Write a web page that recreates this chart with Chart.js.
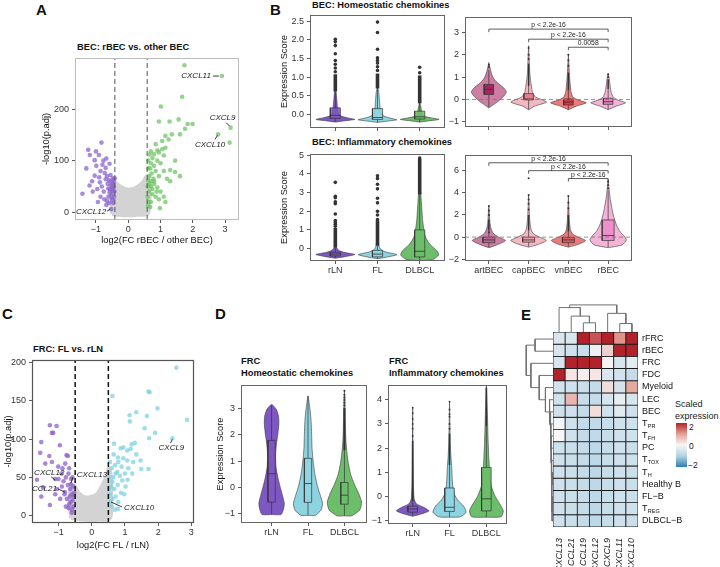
<!DOCTYPE html>
<html>
<head>
<meta charset="utf-8">
<script src="https://cdn.jsdelivr.net/npm/chart.js@4.4.1/dist/chart.umd.min.js"></script>
<style>
  body { margin: 0; width: 720px; height: 567px; position: relative; overflow: hidden; background: #fff;
         font-family: "Liberation Sans", Arial, sans-serif; }
  canvas { position: absolute; }
  .t { position: absolute; white-space: nowrap; color: #111; transform: translateY(-50%); line-height: 1; }
  .letter { font-weight: bold; font-size: 15px; }
  .ttl { font-weight: bold; font-size: 9.3px; }
  .leg { font-size: 9px; color: #222; }
</style>
</head>
<body>
<div class="t letter" style="left:36px;top:9px">A</div>
<div class="t letter" style="left:270px;top:9px">B</div>
<div class="t letter" style="left:2px;top:313px">C</div>
<div class="t letter" style="left:215px;top:313px">D</div>
<div class="t letter" style="left:521px;top:314px">E</div>
<div class="t ttl" style="left:77px;top:48px">BEC: rBEC vs. other BEC</div>
<div class="t ttl" style="left:312px;top:6px">BEC: Homeostatic chemokines</div>
<div class="t ttl" style="left:312px;top:143px">BEC: Inflammatory chemokines</div>
<div class="t ttl" style="left:33px;top:350px">FRC: FL vs. rLN</div>
<div class="t ttl" style="left:241px;top:362px">FRC</div>
<div class="t ttl" style="left:241px;top:374px">Homeostatic chemokines</div>
<div class="t ttl" style="left:389px;top:362px">FRC</div>
<div class="t ttl" style="left:389px;top:374px">Inflammatory chemokines</div>
<div class="t leg" style="left:675px;top:404px">Scaled</div>
<div class="t leg" style="left:675px;top:416px">expression</div>
<div id="cbar" style="position:absolute;left:676px;top:423px;width:11px;height:44px"></div>
<div class="t leg" style="left:689px;top:427px;font-size:8.5px">2</div>
<div class="t leg" style="left:689px;top:446px;font-size:8.5px">0</div>
<div class="t leg" style="left:688px;top:465px;font-size:8.5px">−2</div>
<script>
// ---------- A: volcano, BEC rBEC vs other BEC ----------
const aPurple = [[-1.24,121],[-0.83,135],[-1.19,111],[-0.91,111],[-1.04,101],[-0.99,90],[-0.58,94],[-0.73,76],
  [-1.04,71],[-1.42,36],[-0.94,20],[-0.68,14],[-0.53,6],[-1.3,85],[-1.12,60],[-0.9,68],[-0.82,50],[-0.76,40],
  [-0.62,30],[-0.66,22],[-0.86,30],[-0.96,45],[-1.2,52],[-0.7,86],[-0.6,62],[-0.55,52],[-0.5,42],[-0.45,57],
  [-0.48,66],[-0.52,35],[-0.44,30],[-0.46,45],[-0.5,24],[-0.55,72],[-0.62,46],[-0.58,38],[-0.47,18],[-0.7,64],
  [-0.77,100],[-1.0,118],[-0.68,104],[-0.86,80],[-0.64,55],[-0.54,60],[-0.43,40],[-0.45,50],[-0.49,48],
  [-0.52,28],[-0.57,44],[-0.6,18],[-0.74,25],[-1.1,40],[-0.88,58],[-0.45,62],[-0.42,66],[-0.5,55],[-0.66,70],[-0.8,92]];
const aGreen = [[1.74,285],[2.9,264],[1.67,224],[1.01,205],[0.95,176],[1.28,176],[1.56,180],[1.84,171],[1.99,171],
  [1.76,162],[1.6,151],[1.35,151],[1.15,148],[1.05,138],[1.25,141],[0.85,132],[1.15,125],[0.95,116],[0.8,113],
  [2.78,151],[3.17,164],[3.14,135],[0.62,100],[0.7,95],[0.75,105],[0.8,90],[0.68,85],[0.9,100],[1.0,95],[0.85,80],
  [0.65,70],[0.72,75],[0.78,65],[0.95,70],[1.1,80],[1.3,82],[1.45,78],[1.6,70],[0.66,55],[0.7,50],[0.8,55],[0.9,48],
  [1.0,40],[0.64,40],[0.75,35],[0.85,30],[0.95,25],[1.1,30],[1.15,20],[0.7,20],[0.68,10],[0.98,8],[0.8,60],[0.62,62],
  [1.45,100],[1.2,65],[0.6,30],[0.63,20],[0.9,120],[1.1,110],[0.7,118],[1.05,122],[0.62,85],[0.66,112],[0.75,45],
  [0.88,40],[0.6,50],[0.72,60],[1.3,60],[0.61,12]];
const aGrayCloud = [[-0.5,-3],[-0.52,20],[-0.5,45],[-0.45,58],[-0.38,56],[-0.25,50],[-0.1,45],[0.05,44],[0.2,46],
  [0.35,52],[0.48,60],[0.58,70],[0.64,60],[0.66,35],[0.64,10],[0.6,-3],[0.3,-5],[0,-6],[-0.3,-5]];
const aCutoffs = [-0.415, 0.585];
const aXTicks = [-1, 0, 1, 2, 3];
const aYTicks = [0, 100, 200];
const aGenes = [['CXCL11', 2.9, 264], ['CXCL9', 3.17, 164], ['CXCL10', 2.78, 151], ['CXCL12', -0.53, 6]];

// ---------- C: volcano, FRC FL vs rLN ----------
const cPurple = [[-1.52,96],[-1.26,118],[-1.06,117],[-1.16,108],[-1.2,108],[-0.96,92],[-1.55,82],[-1.28,78],[-0.76,79],
  [-0.72,78],[-1.4,68],[-1.2,70],[-1.01,64],[-1.65,47],[-1.47,37],[-1.52,25],[-1.26,14],[-0.91,55],[-1.1,48],
  [-0.81,31],[-0.63,41],[-0.85,45],[-0.78,50],[-0.7,55],[-0.65,35],[-0.6,28],[-0.58,20],[-0.55,12],[-0.6,8],
  [-0.68,15],[-0.75,22],[-0.82,28],[-0.9,38],[-0.72,40],[-0.62,48],[-0.56,38],[-0.54,25],[-0.66,25],[-0.7,10],
  [-0.58,50],[-0.53,30],[-0.95,22],[-1.05,35],[-1.0,48],[-0.88,62],[-0.8,68],[-0.68,62],[-1.1,28],[-0.6,4],
  [-0.78,12],[-0.64,18]];
const cCyan = [[2.55,193],[1.71,162],[1.74,161],[0.62,156],[1.98,140],[1.34,135],[1.14,131],[1.66,130],[1.15,123],
  [2.87,125],[1.59,114],[1.91,108],[1.73,101],[2.43,101],[0.87,88],[0.95,89],[0.67,94],[1.17,87],[0.79,76],[1.34,80],
  [1.07,85],[1.47,72],[1.07,72],[1.71,61],[1.49,61],[1.22,55],[0.77,57],[0.62,44],[0.92,46],[1.02,38],[0.55,70],
  [0.6,62],[0.7,66],[0.8,70],[0.9,64],[0.65,50],[0.72,55],[0.85,52],[0.58,38],[0.68,35],[0.78,40],[0.88,30],
  [0.55,28],[0.62,22],[0.72,25],[0.8,18],[0.55,18],[0.6,12],[0.79,9],[0.7,8],[0.52,50],[0.52,35],[1.0,55],[1.1,62],
  [0.95,75],[0.66,80],[1.25,70],[1.3,95],[1.2,93],[1.08,47],[0.98,28]];
const cGrayCloud = [[-0.62,-3],[-0.66,15],[-0.64,35],[-0.55,40],[-0.4,30],[-0.2,24],[0,25],[0.15,28],[0.3,38],
  [0.45,52],[0.52,62],[0.58,45],[0.58,20],[0.55,-3],[0.2,-5],[-0.2,-5]];
const cCutoffs = [-0.5, 0.5];
const cXTicks = [-1, 0, 1, 2, 3];
const cYTicks = [0, 50, 100, 150, 200];
const cGenes = [['CXCL12', -1.1, 48], ['CCL21', -0.81, 31], ['CXCL13', -0.63, 41], ['CXCL9', 2.43, 101], ['CXCL10', 0.55, 18]];

// ---------- B / D: violins ([score, half width]) ----------
const patientCats = ['rLN', 'FL', 'DLBCL'];
const becCats = ['artBEC', 'capBEC', 'vnBEC', 'rBEC'];

const b1Violins = [
  [[-0.2,0],[-0.17,0.2],[-0.13,0.46],[-0.09,0.3],[-0.04,0.14],[0.05,0.07],[0.2,0.05],[0.4,0.035],[0.6,0.02],[0.68,0]],
  [[-0.21,0],[-0.18,0.2],[-0.14,0.46],[-0.1,0.32],[-0.04,0.15],[0.05,0.08],[0.2,0.06],[0.4,0.045],[0.6,0.03],[0.75,0]],
  [[-0.2,0],[-0.17,0.2],[-0.13,0.46],[-0.09,0.28],[-0.04,0.1],[0.05,0.05],[0.2,0.03],[0.32,0]]];
const b1Boxes = [[-0.1,-0.02,0.18,-0.2,0.62],[-0.13,-0.08,0.16,-0.21,0.7],[-0.12,-0.06,0.09,-0.2,0.3]];
const b1Outliers = [[2.02,1.95,1.85,1.63,1.45,1.35,1.25,1.15],[2.48,2.2,1.75,1.52,1.45,1.38,1.28,1.18],[1.27,1.12]];
const b1Dense = [[0.62,1.08],[0.7,1.1],[0.3,1.05]];

const b2Violins = [
  [[-0.38,0],[-0.25,0.1],[-0.05,0.26],[0.2,0.4],[0.35,0.44],[0.55,0.35],[0.8,0.18],[1.0,0.1],[1.2,0.06],[1.4,0.03],[1.65,0]],
  [[-0.46,0],[-0.3,0.15],[-0.12,0.45],[0.0,0.32],[0.1,0.18],[0.3,0.1],[0.6,0.07],[0.9,0.045],[1.3,0.025],[1.8,0.015],[2.4,0]],
  [[-0.46,0],[-0.3,0.2],[-0.15,0.45],[-0.03,0.25],[0.1,0.12],[0.3,0.07],[0.6,0.05],[1.0,0.03],[1.5,0.015],[2.0,0]],
  [[-0.46,0],[-0.3,0.2],[-0.15,0.44],[-0.03,0.25],[0.1,0.13],[0.3,0.08],[0.6,0.05],[0.9,0.03],[1.15,0]]];
const b2Boxes = [[0.22,0.45,0.67,-0.35,1.3],[-0.02,0.02,0.26,-0.45,0.6],[-0.25,-0.12,0.02,-0.45,0.4],[-0.22,-0.1,0.05,-0.45,0.45]];
const b2Outliers = [[1.45,1.55],[1.8,2.0,2.3],[1.5,1.75,2.0],[1.0,1.13]];
const b2Dense = [null,[0.6,1.6],[0.4,1.2],[0.45,0.9]];
const b2Brackets = [[1,4,3.14,'p < 2.2e-16'],[2,4,2.69,'p < 2.2e-16'],[3,4,2.33,'0.0058']];

const b3Violins = [
  [[-0.52,0],[-0.45,0.2],[-0.32,0.46],[-0.2,0.2],[-0.1,0.08],[0.05,0.03],[0.2,0]],
  [[-0.55,0],[-0.47,0.2],[-0.33,0.46],[-0.2,0.22],[-0.1,0.1],[0.05,0.05],[0.3,0.02],[0.5,0]],
  [[-0.65,0],[-0.6,0.3],[-0.35,0.45],[-0.1,0.4],[0.1,0.3],[0.3,0.22],[0.6,0.14],[1.0,0.1],[1.5,0.07],[2.0,0.055],
   [2.5,0.04],[3.0,0.025],[3.6,0]]];
const b3Boxes = [[-0.4,-0.3,-0.2,-0.5,0.05],[-0.45,-0.3,-0.1,-0.55,0.15],[-0.45,-0.15,1.0,-0.62,2.9]];
const b3Outliers = [[3.55,2.8,2.72,2.5,2.4,1.85,1.5,1.4,1.3,1.2],[3.9,3.75,3.45,3.2,2.7,2.45,2.0,1.8,1.55],[4.85]];
const b3Dense = [[0.05,1.1],[0.15,1.5],[2.9,4.8]];

const b4Violins = [
  [[-0.95,0],[-0.7,0.2],[-0.3,0.42],[0.0,0.25],[0.3,0.12],[0.7,0.06],[1.2,0.03],[2.0,0.015],[2.8,0]],
  [[-0.9,0],[-0.65,0.25],[-0.3,0.45],[0.0,0.28],[0.3,0.12],[0.7,0.06],[1.5,0.03],[2.5,0.015],[3.8,0]],
  [[-0.9,0],[-0.65,0.25],[-0.3,0.43],[0.0,0.25],[0.3,0.1],[0.7,0.05],[1.5,0.025],[2.5,0.012],[3.7,0]],
  [[-0.95,0],[-0.7,0.35],[-0.25,0.46],[0.1,0.4],[0.5,0.3],[1.0,0.22],[1.5,0.17],[2.0,0.13],[2.5,0.1],[3.0,0.075],
   [3.5,0.05],[4.0,0.035],[4.6,0.015],[5.2,0]]];
const b4Boxes = [[-0.5,-0.25,0.0,-0.9,0.6],[-0.45,-0.25,0.0,-0.85,0.6],[-0.5,-0.25,-0.02,-0.85,0.5],[-0.3,0.15,1.55,-0.9,4.2]];
const b4Outliers = [[0.45,2.0,2.4,2.8],[2.5,3.0,3.4,3.8,5.3],[2.6,3.1,3.7],[4.4,4.7,5.0]];
const b4Dense = [[0.6,1.6],[0.6,2.0],[0.5,2.0],null];
const b4Brackets = [[1,4,6.7,'p < 2.2e-16'],[2,4,5.99,'p < 2.2e-16'],[3,4,5.28,'p < 2.2e-16']];

const d1Violins = [
  [[-1.02,0],[-1.02,0.26],[-0.8,0.33],[-0.6,0.35],[-0.3,0.3],[0.0,0.24],[0.4,0.17],[0.8,0.12],[1.2,0.11],[1.6,0.13],
   [2.0,0.17],[2.4,0.2],[2.7,0.19],[2.95,0.13],[3.1,0.04],[3.13,0]],
  [[-1.05,0],[-1.05,0.2],[-0.85,0.36],[-0.6,0.4],[-0.3,0.34],[0.0,0.27],[0.5,0.19],[1.0,0.14],[1.5,0.11],[2.0,0.1],
   [2.5,0.085],[2.9,0.06],[3.2,0.03],[3.46,0]],
  [[-1.07,0],[-1.07,0.2],[-0.85,0.42],[-0.55,0.47],[-0.25,0.4],[0.1,0.28],[0.5,0.17],[0.9,0.11],[1.3,0.07],
   [1.8,0.04],[2.5,0.025],[3.2,0.015],[3.65,0]]];
const d1Boxes = [[-0.55,0.52,1.78,-1.02,3.1],[-0.56,0.15,1.1,-1.05,3.45],[-0.63,-0.29,0.19,-1.07,1.4]];
const d1Outliers = [[],[],[3.1,3.2,3.3,3.4,3.5,3.65]];
const d1Dense = [null,null,[1.4,3.0]];

const d2Violins = [
  [[-0.82,0],[-0.75,0.18],[-0.6,0.44],[-0.45,0.3],[-0.3,0.1],[-0.1,0.04],[0.5,0.02],[1.5,0.012],[2.5,0.006],[3.67,0]],
  [[-0.86,0],[-0.84,0.3],[-0.65,0.45],[-0.4,0.38],[-0.15,0.22],[0.1,0.13],[0.4,0.09],[0.8,0.07],[1.2,0.06],
   [1.6,0.04],[2.2,0.02],[3.0,0.01],[3.92,0]],
  [[-0.86,0],[-0.84,0.4],[-0.6,0.46],[-0.3,0.36],[0.0,0.24],[0.4,0.14],[0.8,0.1],[1.5,0.07],[2.2,0.05],[3.0,0.035],
   [3.8,0.02],[4.6,0]]];
const d2Boxes = [[-0.65,-0.52,-0.4,-0.8,-0.22],[-0.62,-0.45,0.35,-0.85,1.3],[-0.6,-0.1,1.2,-0.85,2.9]];
const d2Outliers = [[2.5,2.8,3.0,3.2,3.45,3.67],[2.8,3.0,3.3,3.4,3.6,3.92],[4.6]];
const d2Dense = [[-0.2,2.3],[1.3,2.6],[2.9,4.5]];

// ---------- E: heatmap ----------
const heatCols = ['CXCL13', 'CCL21', 'CCL19', 'CXCL12', 'CXCL9', 'CXCL11', 'CXCL10'];
const heatRows = ['rFRC', 'rBEC', 'FRC', 'FDC', 'Myeloid', 'LEC', 'BEC', 'T_PR', 'T_FH', 'PC', 'T_TOX', 'T_H',
  'Healthy B', 'FL−B', 'T_REG', 'DLBCL−B'];
const heatValues = [
  [-0.45,-0.45,2.6,1.6,2.6,1.1,2.6],
  [-0.5,-0.6,-0.7,-0.15,0.45,2.6,2.6],
  [-0.5,2.6,2.6,2.6,0.05,-0.5,-0.3],
  [2.6,0.2,0.1,0.2,-0.45,-0.55,-0.75],
  [-0.55,-0.6,-0.65,-0.75,0.3,-0.55,0.9],
  [-0.6,0.75,-0.7,-0.75,-0.5,-0.25,-0.5],
  [-0.6,-0.6,-0.75,0.3,-0.6,-0.35,-0.6],
  [-0.05,-0.6,-0.75,-0.8,-0.7,-0.6,-0.6],
  [0.0,-0.6,-0.75,-0.8,-0.7,-0.6,-0.6],
  [-0.6,-0.65,-0.75,-0.85,-0.7,-0.6,-0.65],
  [-0.6,-0.65,-0.75,-0.85,-0.7,-0.6,-0.6],
  [-0.6,-0.65,-0.75,-0.85,-0.7,-0.6,-0.65],
  [-0.6,-0.65,-0.75,-0.85,-0.7,-0.6,-0.65],
  [-0.6,-0.65,-0.75,-0.85,-0.7,-0.6,-0.65],
  [-0.6,-0.65,-0.75,-0.85,-0.7,-0.6,-0.6],
  [-0.6,-0.65,-0.75,-0.85,-0.7,-0.6,-0.65]];
// dendrograms: [node a, node b, height]; leaves 0..n-1, merge k becomes node n+k
const colMerges = [[2,3,9],[5,6,8.3],[1,7,15.6],[4,8,18.3],[0,9,24],[11,10,26.6]];
const rowMerges = [[11,12,0.6],[13,14,0.6],[17,15,0.9],[16,18,1.2],[10,19,1.4],[9,20,1.6],[8,21,1.9],[7,22,2.1],
  [6,23,2.6],[5,24,3.3],[4,25,7.3],[3,26,13.3],[2,27,21.3],[0,1,17.3],[29,28,25.8]];
const heatStops = [[-2,[46,126,178]],[-1,[180,210,228]],[0,[247,247,247]],[1,[228,160,150]],[2,[178,34,43]]];

// ---------- setup ----------
const FONT = '"Liberation Sans", Arial, sans-serif';
Chart.defaults.font.family = FONT;
Chart.defaults.font.size = 9;
Chart.defaults.color = '#333';
Chart.defaults.animation = false;
Chart.defaults.responsive = false;
Chart.defaults.plugins.legend.display = false;
Chart.defaults.plugins.tooltip.enabled = false;

Chart.register({
  id: 'frame',
  afterDatasetsDraw(chart, args, o) {
    if (!o || !o.color) return;
    const a = chart.chartArea, ctx = chart.ctx;
    ctx.save();
    ctx.strokeStyle = o.color;
    ctx.lineWidth = o.width || 1;
    ctx.strokeRect(a.left + 0.5, a.top + 0.5, a.right - a.left - 1, a.bottom - a.top - 1);
    ctx.restore();
  }
}, {
  id: 'notes',
  afterDatasetsDraw(chart, args, o) {
    if (!o || !o.items) return;
    const {ctx, scales: {x, y}} = chart;
    ctx.save();
    ctx.font = 'italic 8px ' + FONT;
    ctx.fillStyle = '#222';
    ctx.strokeStyle = '#222';
    ctx.lineWidth = 0.9;
    ctx.textBaseline = 'middle';
    o.items.forEach(([gene, vx, vy]) => {
      const p = o.offsets[gene];
      const px = x.getPixelForValue(vx), py = y.getPixelForValue(vy);
      ctx.beginPath();
      ctx.moveTo(px + p.line[0], py + p.line[1]);
      ctx.lineTo(px + p.line[2], py + p.line[3]);
      ctx.stroke();
      ctx.textAlign = p.align;
      ctx.fillText(gene, px + p.tx, py + p.ty);
    });
    ctx.restore();
  }
}, {
  id: 'brackets',
  afterDatasetsDraw(chart, args, o) {
    if (!o || !o.items) return;
    const {ctx, scales: {x, y}} = chart;
    ctx.save();
    ctx.strokeStyle = '#333';
    ctx.fillStyle = '#222';
    ctx.lineWidth = 0.8;
    ctx.font = '6.8px ' + FONT;
    ctx.textAlign = 'center';
    ctx.textBaseline = 'bottom';
    o.items.forEach(([a, b, v, label]) => {
      const x1 = x.getPixelForValue(a), x2 = x.getPixelForValue(b), py = y.getPixelForValue(v);
      ctx.beginPath();
      ctx.moveTo(x1, py + 3); ctx.lineTo(x1, py); ctx.lineTo(x2, py); ctx.lineTo(x2, py + 3);
      ctx.stroke();
      ctx.fillText(label, (x1 + x2) / 2, py - 0.5);
    });
    ctx.restore();
  }
}, {
  id: 'rowLabels',
  afterDraw(chart, args, o) {
    if (!o || !o.rows) return;
    const {ctx, chartArea, scales: {y}} = chart;
    ctx.save();
    ctx.fillStyle = '#111';
    ctx.textAlign = 'left';
    ctx.textBaseline = 'middle';
    o.rows.forEach((r, i) => {
      const py = y.getPixelForValue(i + 0.5), px = chartArea.right + 4;
      const [main, sub] = r.split('_');
      ctx.font = '9px ' + FONT;
      ctx.fillText(main, px, py);
      if (sub) {
        const w = ctx.measureText(main).width;
        ctx.font = '5.5px ' + FONT;
        ctx.fillText(sub, px + w + 0.3, py + 3);
      }
    });
    ctx.restore();
  }
});

function makeCanvas(box, m) {
  const c = document.createElement('canvas');
  const w = box.r - box.l + m.l + m.r, h = box.b - box.t + m.t + m.b;
  c.width = w; c.height = h;
  c.style.left = (box.l - m.l) + 'px';
  c.style.top = (box.t - m.t) + 'px';
  c.style.width = w + 'px';
  c.style.height = h + 'px';
  document.body.appendChild(c);
  return c;
}

const minus = v => (v < 0 ? '−' + (-v) : '' + v);

function linAxis(o) {
  return {
    type: 'linear', min: o.min, max: o.max,
    afterBuildTicks: s => { s.ticks = o.ticks.map(v => ({value: v})); },
    afterFit: s => {
      if (s.isHorizontal()) s.height = o.size; else s.width = o.size;
      s.paddingLeft = s.paddingRight = s.paddingTop = s.paddingBottom = 0;
    },
    grid: {drawOnChartArea: false, tickLength: 3, color: '#333', lineWidth: 0.8},
    border: {display: false},
    ticks: {display: o.labels !== false, padding: o.pad === undefined ? 3 : o.pad, color: '#333',
            font: {size: 9}, maxRotation: 0, autoSkip: false, callback: o.fmt || minus},
    title: {display: !!o.title, text: o.title || '', padding: 0, color: '#111', font: {size: 9.3}}
  };
}

function lineSet(pts, color, width, extra) {
  return Object.assign({type: 'line', data: pts.map(([x, y]) => ({x, y})), borderColor: color,
    borderWidth: width, pointRadius: 0, fill: false, tension: 0}, extra || {});
}

function pointSet(pts, color, r) {
  return {type: 'scatter', data: pts.map(([x, y]) => ({x, y})), backgroundColor: color, borderWidth: 0, pointRadius: r};
}

// ---------- volcano panels ----------
function volcano(p) {
  const canvas = makeCanvas(p.box, p.m);
  const sets = [
    lineSet(p.cloud.concat([p.cloud[0]]), '#D3D3D3', 4, {fill: 'shape', backgroundColor: '#D3D3D3', tension: 0.3}),
    pointSet(p.down, p.downColor, 2.3),
    pointSet(p.up, p.upColor, 2.3),
    lineSet([[p.cut[0], p.y[0]], [p.cut[0], p.y[1]]], p.cutColor, p.cutWidth, {borderDash: [5, 3]}),
    lineSet([[p.cut[1], p.y[0]], [p.cut[1], p.y[1]]], p.cutColor, p.cutWidth, {borderDash: [5, 3]})
  ].reverse();
  new Chart(canvas, {
    type: 'scatter',
    data: {datasets: sets},
    options: {
      layout: {padding: {top: p.m.t, right: p.m.r, left: 0, bottom: 0}},
      scales: {
        x: linAxis({min: p.x[0], max: p.x[1], ticks: p.xTicks, size: p.m.b, title: p.xTitle, pad: 1}),
        y: linAxis({min: p.y[0], max: p.y[1], ticks: p.yTicks, size: p.m.l, title: '-log10(p.adj)'})
      },
      plugins: {frame: {color: p.frame, width: p.frameW}, notes: {items: p.genes, offsets: p.offsets}}
    }
  });
}

volcano({
  box: {l: 75, t: 56, r: 241, b: 220}, m: {l: 34, t: 2, r: 2, b: 26},
  x: [-1.65, 3.43], y: [-15, 299], xTicks: aXTicks, yTicks: aYTicks,
  xTitle: 'log2(FC rBEC / other BEC)',
  cloud: aGrayCloud, down: aPurple, up: aGreen, cut: aCutoffs,
  downColor: 'rgba(140,100,205,0.75)', upColor: 'rgba(112,196,102,0.75)',
  cutColor: '#555', cutWidth: 1, frame: '#BDBDBD', frameW: 1,
  genes: aGenes,
  offsets: {
    CXCL11: {tx: -11, ty: 0, align: 'right', line: [-9, 0, -3, 0]},
    CXCL9: {tx: -8, ty: -10, align: 'center', line: [-4.5, -5, -1, -1.5]},
    CXCL10: {tx: -8, ty: 10, align: 'center', line: [-3, 5, -0.5, 1]},
    CXCL12: {tx: -5, ty: 3, align: 'right', line: [-4, 2, -1, 0]}
  }
});

volcano({
  box: {l: 32, t: 358, r: 196, b: 523}, m: {l: 29, t: 2, r: 2, b: 28},
  x: [-1.8, 3.08], y: [-9.4, 203], xTicks: cXTicks, yTicks: cYTicks,
  xTitle: 'log2(FC FL / rLN)',
  cloud: cGrayCloud, down: cPurple, up: cCyan, cut: cCutoffs,
  downColor: 'rgba(140,95,200,0.75)', upColor: 'rgba(125,210,225,0.75)',
  cutColor: '#111', cutWidth: 1.5, frame: '#555', frameW: 1.2,
  genes: cGenes,
  offsets: {
    CXCL12: {tx: -6, ty: -6, align: 'center', line: [-4, -2, 0, 1]},
    CCL21: {tx: -8, ty: -3.6, align: 'right', line: [-7, -3, 0, 0]},
    CXCL13: {tx: 6, ty: -10, align: 'left', line: [2, -7, 0, -1]},
    CXCL9: {tx: -1, ty: 10, align: 'center', line: [-2, 5, 0, 1]},
    CXCL10: {tx: 14, ty: 6.3, align: 'left', line: [1, 0, 12, 5]}
  }
});

// ---------- violin panels ----------
function violinPanel(p) {
  const canvas = makeCanvas(p.box, p.m);
  const sets = [];
  p.violins.forEach((prof, i) => {
    const c = i + 1;
    const right = prof.map(([y, w]) => [c + w, y]);
    const left = prof.slice().reverse().map(([y, w]) => [c - w, y]);
    sets.push(lineSet(right.concat(left), '#3a3a3a', 0.6, {fill: 'shape', backgroundColor: p.fills[i], tension: 0.2}));
  });
  p.boxes.forEach(([q1, med, q3, lo, hi], i) => {
    const c = i + 1, bw = p.boxW;
    sets.push(lineSet([[c, lo], [c, q1]], '#333', 0.7));
    sets.push(lineSet([[c, q3], [c, hi]], '#333', 0.7));
    sets.push(lineSet([[c - bw, q1], [c + bw, q1], [c + bw, q3], [c - bw, q3], [c - bw, q1]], '#333', 0.7,
      {fill: 'shape', backgroundColor: p.boxFills[i]}));
    sets.push(lineSet([[c - bw, med], [c + bw, med]], '#333', 0.8));
    if (p.dense[i]) sets.push(lineSet([[c, p.dense[i][0]], [c, p.dense[i][1]]], '#333', p.denseW));
    sets.push(pointSet(p.outliers[i].map(v => [c, v]), '#333', p.outR));
  });
  if (p.zeroLine) sets.push(lineSet([[p.x[0], 0], [p.x[1], 0]], '#777', 0.8, {borderDash: [4, 3]}));
  sets.reverse();
  new Chart(canvas, {
    type: 'scatter',
    data: {datasets: sets},
    options: {
      layout: {padding: {top: p.m.t, right: p.m.r, left: 0, bottom: 0}},
      scales: {
        x: linAxis({min: p.x[0], max: p.x[1], ticks: p.cats.map((c, i) => i + 1), size: p.m.b, pad: 1,
                    labels: p.showCats, fmt: v => p.cats[Math.round(v) - 1]}),
        y: linAxis({min: p.y[0], max: p.y[1], ticks: p.yTicks, size: p.m.l, title: p.yTitle, fmt: p.yFmt})
      },
      plugins: {frame: {color: '#666', width: 1}, brackets: p.brackets ? {items: p.brackets} : {}}
    }
  });
}

const patientFills = ['#7E57C2', '#8ED3E0', '#6DBE6A'];
const patientBoxFills = ['rgba(126,87,194,0.85)', 'rgba(142,211,224,0.85)', 'rgba(109,190,106,0.85)'];
const becFills = ['#CC7EA3', '#F4B8C3', '#EE7B7B', '#F3B4D6'];

violinPanel({
  box: {l: 310, t: 13, r: 447, b: 128}, m: {l: 31, t: 2, r: 2, b: 6},
  cats: patientCats, showCats: false, x: [0.4, 3.6], y: [-0.36, 2.67], yTicks: [0, 0.5, 1, 1.5, 2, 2.5],
  yFmt: v => v.toFixed(1), yTitle: 'Expression Score',
  violins: b1Violins, boxes: b1Boxes, outliers: b1Outliers, dense: b1Dense,
  fills: patientFills, boxFills: patientBoxFills, boxW: 0.12, outR: 1.8, denseW: 3.6
});
violinPanel({
  box: {l: 465, t: 15, r: 634, b: 127}, m: {l: 20, t: 2, r: 2, b: 6},
  cats: becCats, showCats: false, x: [0.4, 4.6], y: [-1.23, 3.68], yTicks: [-1, 0, 1, 2, 3],
  violins: b2Violins, boxes: b2Boxes, outliers: b2Outliers, dense: b2Dense, zeroLine: true,
  brackets: b2Brackets,
  fills: becFills, boxFills: ['#A8245E', '#EA7C8C', '#D9363F', '#E680C2'], boxW: 0.12, outR: 1, denseW: 1.5
});
violinPanel({
  box: {l: 310, t: 152, r: 447, b: 261}, m: {l: 31, t: 2, r: 2, b: 16},
  cats: patientCats, showCats: true, x: [0.4, 3.6], y: [-0.67, 5.07], yTicks: [0, 1, 2, 3, 4, 5],
  yTitle: 'Expression Score',
  violins: b3Violins, boxes: b3Boxes, outliers: b3Outliers, dense: b3Dense,
  fills: patientFills, boxFills: patientBoxFills, boxW: 0.12, outR: 1.8, denseW: 3.6
});
violinPanel({
  box: {l: 465, t: 153, r: 634, b: 261}, m: {l: 20, t: 2, r: 2, b: 16},
  cats: becCats, showCats: true, x: [0.4, 4.6], y: [-2.15, 7.4], yTicks: [-2, 0, 2, 4, 6],
  violins: b4Violins, boxes: b4Boxes, outliers: b4Outliers, dense: b4Dense, zeroLine: true,
  brackets: b4Brackets,
  fills: becFills, boxFills: ['#C0638F', '#EE9AA7', '#E05A60', '#EC8FCB'], boxW: 0.15, outR: 1, denseW: 1.5
});
violinPanel({
  box: {l: 241, t: 383, r: 369, b: 523}, m: {l: 26, t: 2, r: 2, b: 16},
  cats: patientCats, showCats: true, x: [0.16, 3.62], y: [-1.34, 3.87], yTicks: [-1, 0, 1, 2, 3],
  yTitle: 'Expression Score',
  violins: d1Violins, boxes: d1Boxes, outliers: d1Outliers, dense: d1Dense,
  fills: patientFills, boxFills: patientBoxFills, boxW: 0.1, outR: 1, denseW: 2
});
violinPanel({
  box: {l: 388, t: 383, r: 509, b: 524}, m: {l: 20, t: 2, r: 2, b: 16},
  cats: patientCats, showCats: true, x: [0.33, 3.56], y: [-1.14, 4.61], yTicks: [-1, 0, 1, 2, 3, 4],
  violins: d2Violins, boxes: d2Boxes, outliers: d2Outliers, dense: d2Dense,
  fills: patientFills, boxFills: patientBoxFills, boxW: 0.13, outR: 0.9, denseW: 1.6
});

// ---------- heatmap ----------
function heatColor(v) {
  v = Math.max(-2, Math.min(2, v));
  for (let k = 1; k < heatStops.length; k++) {
    const [v0, c0] = heatStops[k - 1], [v1, c1] = heatStops[k];
    if (v <= v1) {
      const t = (v - v0) / (v1 - v0);
      return 'rgb(' + c0.map((c, j) => Math.round(c + (c1[j] - c) * t)).join(',') + ')';
    }
  }
}

new Chart(makeCanvas({l: 553, t: 332, r: 638, b: 527}, {l: 0, t: 1, r: 60, b: 46}), {
  type: 'bar',
  data: {
    labels: heatCols,
    datasets: heatRows.map((r, i) => ({
      data: heatValues[i].map(() => [i, i + 1]),
      backgroundColor: heatValues[i].map(heatColor),
      borderColor: '#1a1a1a', borderWidth: 0.8, borderSkipped: false,
      barPercentage: 1, categoryPercentage: 1
    }))
  },
  options: {
    layout: {padding: {top: 1, right: 60, left: 0, bottom: 0}},
    scales: {
      x: {stacked: true, grid: {display: false}, border: {display: false},
          afterFit: s => { s.height = 46; s.paddingLeft = s.paddingRight = 0; },
          ticks: {minRotation: 90, maxRotation: 90, padding: 3, autoSkip: false, color: '#222',
                  font: {size: 9, style: 'italic'}}},
      y: {min: 0, max: 16, reverse: true, display: false}
    },
    plugins: {rowLabels: {rows: heatRows}}
  }
});

function dendroSets(merges, n, horizontal) {
  const pos = [], h = [];
  for (let i = 0; i < n; i++) { pos[i] = i; h[i] = 0; }
  return merges.map(([a, b, ht], k) => {
    pos[n + k] = (pos[a] + pos[b]) / 2;
    h[n + k] = ht;
    const pts = [[pos[a], h[a]], [pos[a], ht], [pos[b], ht], [pos[b], h[b]]];
    return lineSet(pts.map(([q, v]) => (horizontal ? [v, q] : [q, v])), '#707070', 1, {clip: false});
  });
}

new Chart(makeCanvas({l: 553, t: 304, r: 638, b: 332}, {l: 0, t: 0, r: 0, b: 0}), {
  type: 'scatter',
  data: {datasets: dendroSets(colMerges, heatCols.length, false)},
  options: {layout: {padding: 0}, scales: {x: {min: -0.5, max: 6.5, display: false}, y: {min: 0, max: 27.5, display: false}}}
});
new Chart(makeCanvas({l: 525, t: 333, r: 553, b: 527}, {l: 0, t: 0, r: 0, b: 0}), {
  type: 'scatter',
  data: {datasets: dendroSets(rowMerges, heatRows.length, true)},
  options: {layout: {padding: 0}, scales: {x: {min: 0, max: 27, reverse: true, display: false},
                                             y: {min: -0.5, max: 15.5, reverse: true, display: false}}}
});

document.getElementById('cbar').style.background = 'linear-gradient(to top, ' +
  heatStops.map(([v, c], k) => 'rgb(' + c.join(',') + ') ' + (k * 25) + '%').join(', ') + ')';
</script>
</body>
</html>
